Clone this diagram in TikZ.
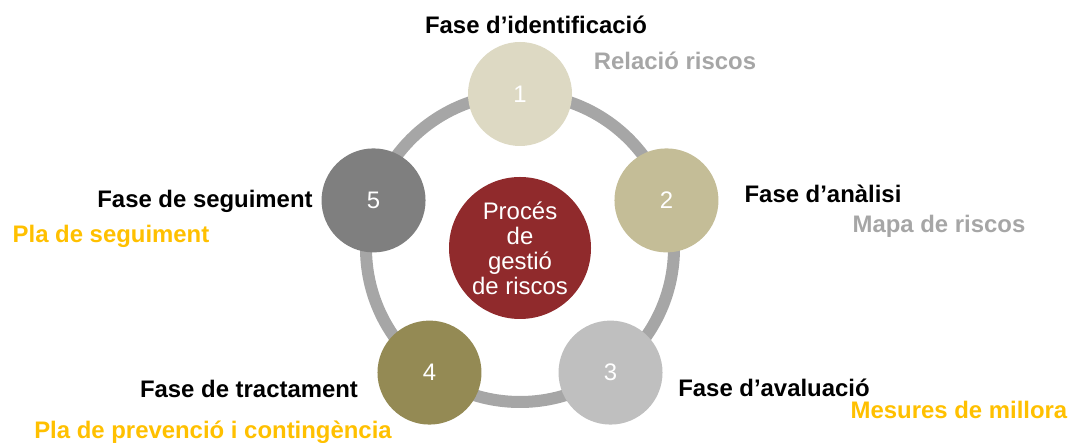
\documentclass[tikz,border=0pt]{standalone}
\usepackage{fontspec}
\setmainfont{Liberation Sans}
\usepackage{tikz}
\usepackage{xcolor}
\definecolor{ringgray}{HTML}{A6A6A6}
\definecolor{core}{HTML}{902A2C}
\definecolor{fase1}{HTML}{DDD9C3}
\definecolor{fase2}{HTML}{C4BD97}
\definecolor{fase3}{HTML}{BFBFBF}
\definecolor{fase4}{HTML}{948A54}
\definecolor{fase5}{HTML}{7F7F7F}
\definecolor{outgray}{HTML}{A6A6A6}
\definecolor{outorange}{HTML}{FFC000}

\begin{document}
\begin{tikzpicture}[x=1bp,y=1bp,
  phase/.style={circle,minimum size=104bp,inner sep=0pt,text=white,font=\fontsize{24}{28}\selectfont},
  title/.style={anchor=base,font=\fontsize{24}{28}\selectfont\bfseries},
  result/.style={title,text=#1}]
 \useasboundingbox (0,0) rectangle (1071,443);
 \pgfmathsetmacro{\R}{154}
 \coordinate (o) at (520,195);
 \draw[ringgray,line width=12bp] (o) circle (\R);
 \node[circle,fill=core,minimum size=142bp,inner sep=0pt,text=white,align=center,
   font=\fontsize{24}{25}\selectfont] (proces) at (o) {Procés\\de\\gestió\\de riscos};

 \foreach \n/\ang in {1/90,2/18,3/-54,4/-126,5/162}{
   \node[phase,fill=fase\n] (f\n) at ([shift={(\ang:\R)}]o) {\n};
 }

 % fases
 \node[title] (t1) at (536,409) {Fase d’identificació};
 \node[title] (t2) at (823,240) {Fase d’anàlisi};
 \node[title] (t3) at (774,46) {Fase d’avaluació};
 \node[title] (t4) at (249,45) {Fase de tractament};
 \node[title] (t5) at (205,235) {Fase de seguiment};

 % resultats
 \node[result=outgray] (r1) at (675,373) {Relació riscos};
 \node[result=outgray] (r2) at (939,210) {Mapa de riscos};
 \node[result=outorange] (r3) at (959,24) {Mesures de millora};
 \node[result=outorange] (r4) at (213,4) {Pla de prevenció i contingència};
 \node[result=outorange] (r5) at (111,200) {Pla de seguiment};
\end{tikzpicture}
\end{document}
